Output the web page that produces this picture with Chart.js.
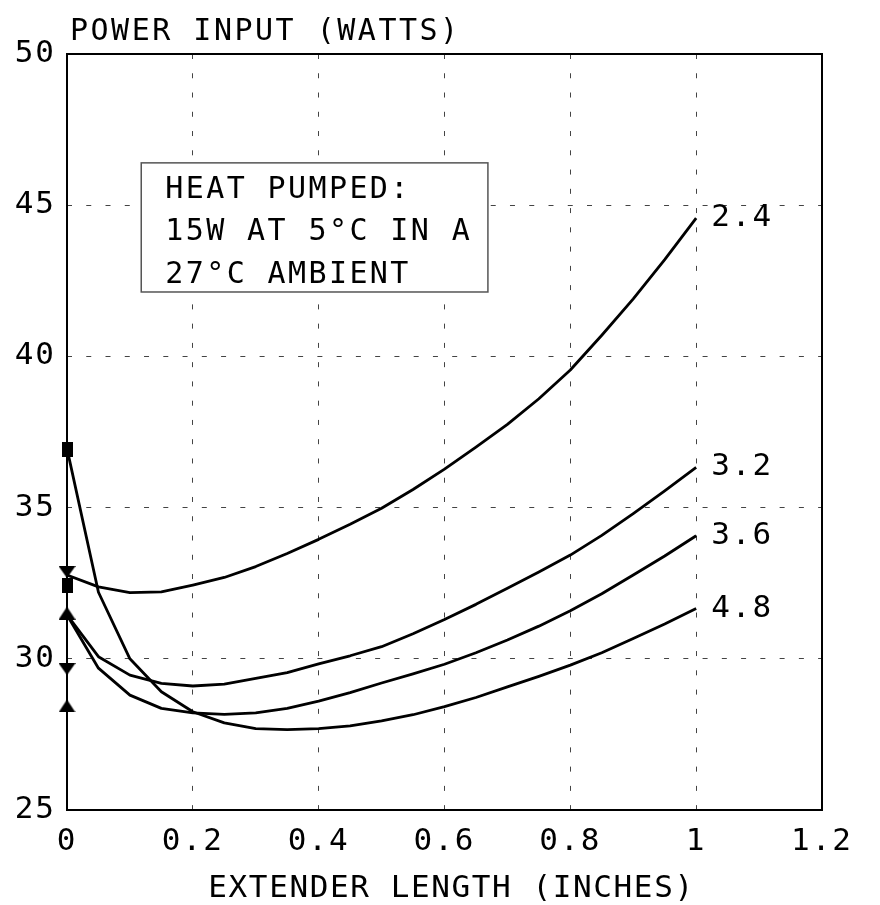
<!DOCTYPE html>
<html>
<head>
<meta charset="utf-8">
<script src="https://cdn.jsdelivr.net/npm/chart.js@4.4.1/dist/chart.umd.min.js"></script>
<style>
html,body{margin:0;padding:0;background:#fff;}
canvas{display:block;}
</style>
</head>
<body>
<canvas id="c" width="880" height="905"></canvas>
<script>
// ---- data ----
const extenderLength = [0, 0.05, 0.1, 0.15, 0.2, 0.25, 0.3, 0.35, 0.4, 0.45, 0.5, 0.55, 0.6, 0.65, 0.7, 0.75, 0.8, 0.85, 0.9, 0.95, 1.0];
const curve24 = [32.77, 32.38, 32.19, 32.21, 32.44, 32.69, 33.05, 33.48, 33.95, 34.45, 34.98, 35.6, 36.27, 37.0, 37.75, 38.6, 39.55, 40.7, 41.9, 43.2, 44.57];
const curve32 = [31.45, 30.07, 29.46, 29.19, 29.1, 29.16, 29.35, 29.54, 29.83, 30.1, 30.4, 30.83, 31.3, 31.8, 32.33, 32.87, 33.43, 34.08, 34.8, 35.55, 36.33];
const curve36 = [31.45, 29.69, 28.8, 28.36, 28.21, 28.16, 28.21, 28.36, 28.6, 28.88, 29.2, 29.5, 29.82, 30.2, 30.62, 31.08, 31.59, 32.15, 32.77, 33.4, 34.07];
const curve48 = [36.95, 32.2, 30.0, 28.91, 28.25, 27.88, 27.69, 27.66, 27.69, 27.78, 27.95, 28.15, 28.42, 28.72, 29.07, 29.42, 29.79, 30.2, 30.67, 31.15, 31.66];
const curveLabels = ['2.4', '3.2', '3.6', '4.8'];
const squareMarks = [36.92, 32.44];
const downMarks = [32.87, 29.66];
const upMarks = [31.51, 28.44];
const xTickLabels = ['0', '0.2', '0.4', '0.6', '0.8', '1', '1.2'];
const yTickLabels = ['25', '30', '35', '40', '45', '50'];
const yTitle = 'POWER INPUT (WATTS)';
const xTitle = 'EXTENDER LENGTH (INCHES)';
const noteLines = ['HEAT PUMPED:', '15W AT 5\u00B0C IN A', '27\u00B0C AMBIENT'];

const FONT = '"DejaVu Sans Mono", monospace';

function pts(ys) { return ys.map((v, i) => ({x: extenderLength[i], y: v})); }
function at0(ys) { return ys.map(v => ({x: 0, y: v})); }

function makeMarker(kind) {
  const c = document.createElement('canvas');
  const g = c.getContext('2d');
  if (kind === 'square') {
    c.width = 11; c.height = 15;
    g.fillStyle = '#000';
    g.fillRect(0, 0, 11, 15);
  } else if (kind === 'down') {
    c.width = 17; c.height = 12;
    g.fillStyle = '#000';
    g.beginPath(); g.moveTo(0, 0); g.lineTo(17, 0); g.lineTo(8.5, 12); g.closePath(); g.fill();
  } else {
    c.width = 17; c.height = 13;
    g.fillStyle = '#000';
    g.beginPath(); g.moveTo(8.5, 0); g.lineTo(17, 13); g.lineTo(0, 13); g.closePath(); g.fill();
  }
  return c;
}

const lineStyle = {borderColor: '#000', borderWidth: 2.8, pointRadius: 0, tension: 0, borderJoinStyle: 'round', fill: false, showLine: true};

const decor = {
  id: 'decor',
  beforeDraw(chart) {
    chart.ctx.letterSpacing = '2px';
  },
  beforeDatasetsDraw(chart) {
    const {ctx, chartArea: a, scales: {x, y}} = chart;
    ctx.save();
    // note box
    const bx0 = x.getPixelForValue(0.118), bx1 = x.getPixelForValue(0.669);
    const by0 = y.getPixelForValue(46.4), by1 = y.getPixelForValue(42.13);
    ctx.fillStyle = '#fff';
    ctx.fillRect(bx0, by0, bx1 - bx0, by1 - by0);
    ctx.strokeStyle = '#555';
    ctx.lineWidth = 1.5;
    ctx.strokeRect(bx0, by0, bx1 - bx0, by1 - by0);
    ctx.fillStyle = '#000';
    ctx.font = '30px ' + FONT;
    ctx.letterSpacing = '2.4px';
    ctx.textAlign = 'left';
    ctx.textBaseline = 'alphabetic';
    const lineY = [198, 240, 283];
    noteLines.forEach((t, i) => ctx.fillText(t, bx0 + 24, lineY[i]));
    // frame
    ctx.strokeStyle = '#000';
    ctx.lineWidth = 2;
    ctx.strokeRect(a.left, a.top, a.right - a.left, a.bottom - a.top);
    ctx.restore();
  },
  afterDraw(chart) {
    const {ctx, chartArea: a, scales: {x, y}} = chart;
    ctx.save();
    ctx.fillStyle = '#000';
    ctx.font = '30px ' + FONT;
    ctx.letterSpacing = '2.5px';
    ctx.textAlign = 'left';
    ctx.textBaseline = 'alphabetic';
    ctx.fillText(yTitle, a.left + 3, 40);
    // x axis title
    ctx.font = '31px ' + FONT;
    ctx.letterSpacing = '1.6px';
    ctx.textAlign = 'center';
    ctx.fillText(xTitle, (a.left + a.right) / 2 + 7, 897);
    // curve end labels
    ctx.letterSpacing = '2px';
    ctx.textAlign = 'left';
    ctx.textBaseline = 'middle';
    const ends = [curve24, curve32, curve36, curve48];
    ends.forEach((arr, i) => {
      const px = x.getPixelForValue(extenderLength[extenderLength.length - 1]);
      const py = y.getPixelForValue(arr[arr.length - 1]);
      ctx.fillText(curveLabels[i], px + 15, py);
    });
    ctx.restore();
  }
};

const gridColorFn = (c) => {
  const n = c.chart.scales[c.scale.id].ticks.length;
  return (c.index === 0 || c.index === n - 1) ? 'rgba(0,0,0,0)' : '#444';
};

new Chart(document.getElementById('c'), {
  type: 'scatter',
  data: {
    datasets: [
      Object.assign({label: curveLabels[0], data: pts(curve24)}, lineStyle),
      Object.assign({label: curveLabels[1], data: pts(curve32)}, lineStyle),
      Object.assign({label: curveLabels[2], data: pts(curve36)}, lineStyle),
      Object.assign({label: curveLabels[3], data: pts(curve48)}, lineStyle),
      {label: 'sq', data: at0(squareMarks), pointStyle: makeMarker('square'), pointRadius: 8, showLine: false, clip: false},
      {label: 'dn', data: at0(downMarks), pointStyle: makeMarker('down'), pointRadius: 8, showLine: false, clip: false},
      {label: 'up', data: at0(upMarks), pointStyle: makeMarker('up'), pointRadius: 8, showLine: false, clip: false}
    ]
  },
  options: {
    responsive: false,
    animation: false,
    devicePixelRatio: 1,
    layout: {padding: {left: 0, right: 58, top: 54, bottom: 0}},
    plugins: {legend: {display: false}, tooltip: {enabled: false}},
    scales: {
      x: {
        type: 'linear',
        min: 0, max: 1.2,
        afterFit(s) { s.height = 95; },
        ticks: {
          stepSize: 0.2, autoSkip: false, maxRotation: 0, padding: 13,
          color: '#000', font: {family: FONT, size: 31},
          callback: (v, i) => xTickLabels[i]
        },
        grid: {color: gridColorFn, lineWidth: 1, drawTicks: false},
        border: {display: false, dash: [5, 14.26]},
        title: {display: false}
      },
      y: {
        type: 'linear',
        min: 25, max: 50,
        afterFit(s) { s.width = 67; },
        ticks: {
          stepSize: 5, padding: 11,
          color: '#000', font: {family: FONT, size: 31},
          callback: (v, i) => yTickLabels[i]
        },
        grid: {color: gridColorFn, lineWidth: 1, drawTicks: false},
        border: {display: false, dash: [5, 14.26]}
      }
    }
  },
  plugins: [decor]
});
</script>
</body>
</html>
